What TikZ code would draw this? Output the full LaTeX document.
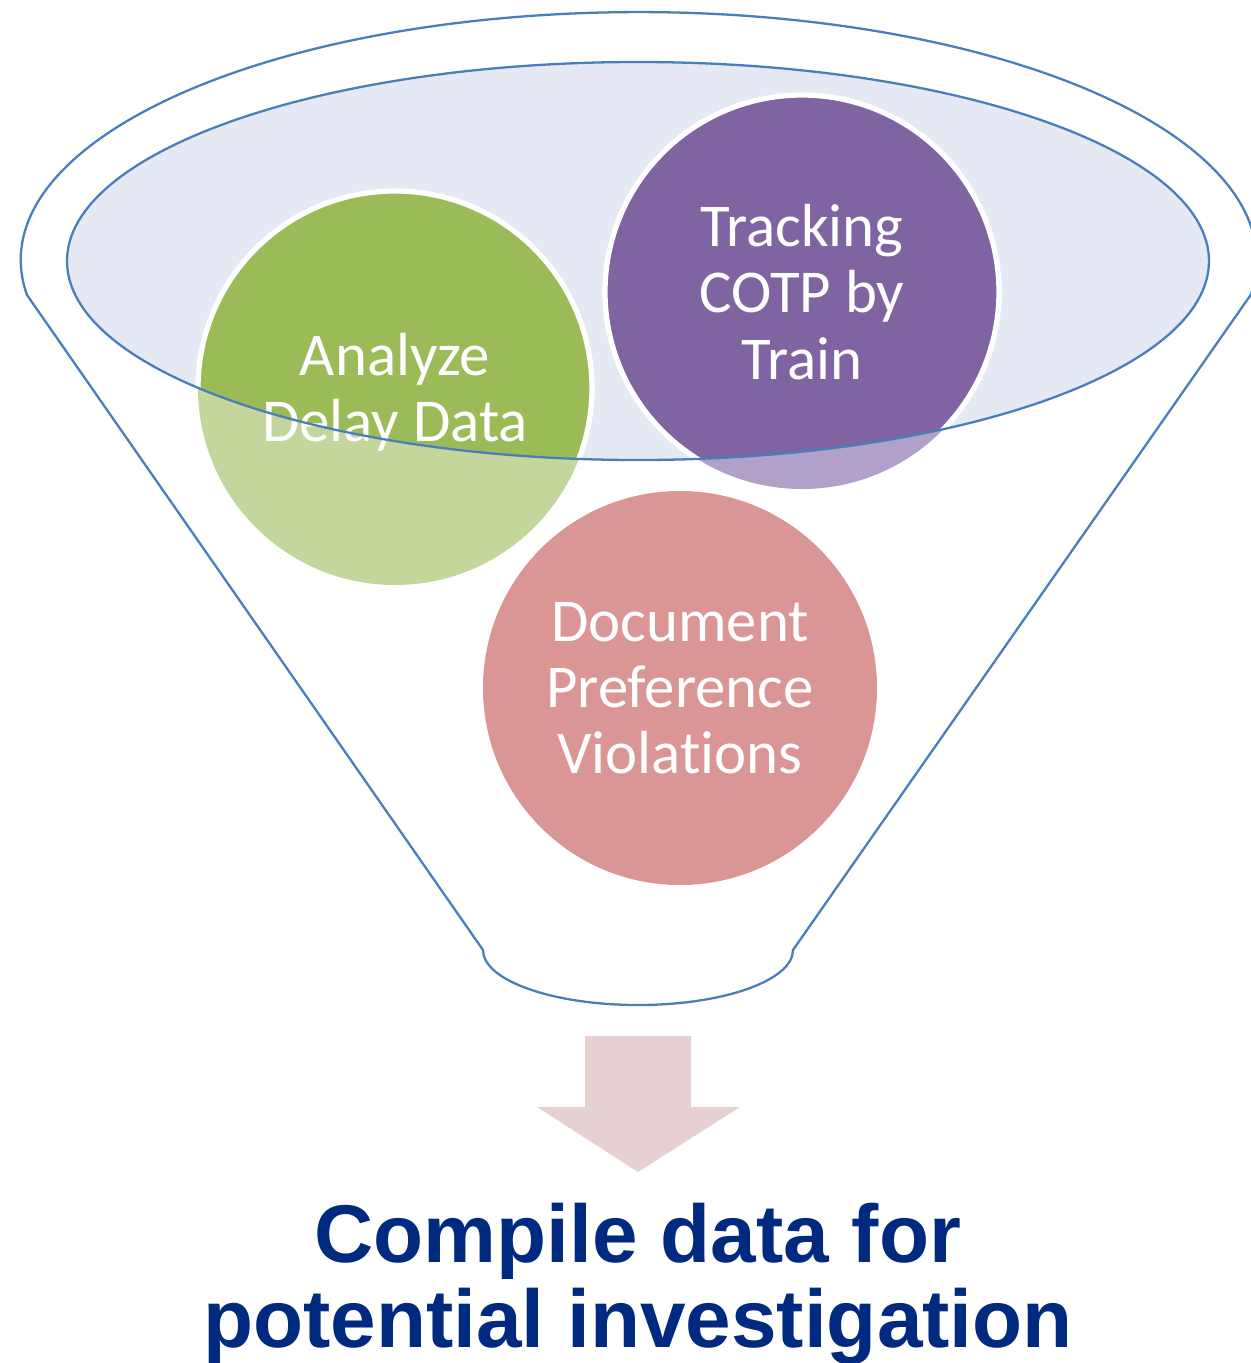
\documentclass[tikz,border=0pt]{standalone}
\usepackage{fontspec}
\setmainfont[Ligatures={NoCommon}]{Carlito}
\newfontfamily\headfont{Liberation Sans}
\usetikzlibrary{positioning}

\definecolor{funnelline}{RGB}{74,126,187}
\definecolor{funnelfill}{RGB}{228,233,243}
\definecolor{greendark}{RGB}{155,187,89}
\definecolor{greenlight}{RGB}{195,214,155}
\definecolor{purpledark}{RGB}{128,100,162}
\definecolor{purplelight}{RGB}{177,160,199}
\definecolor{pinkfill}{RGB}{217,150,148}
\definecolor{arrowfill}{RGB}{230,208,209}
\definecolor{navy}{RGB}{0,42,127}

\tikzset{
    rim/.style={draw=funnelline, line width=0.65pt},
    bubbletext/.style={text=white, align=center, font=\fontsize{17.3}{18.8}\selectfont},
    bubbleedge/.style={draw=white, line width=1.5pt},
}

\begin{document}
\begin{tikzpicture}[x=0.01cm, y=-0.01cm]
                    \useasboundingbox (0,0) rectangle (1251,1363);

                    \coordinate (delayc) at (395,388);
                    \coordinate (trainc) at (802,292);
                    \coordinate (prefc) at (680,688);

                    % funnel body
                    \draw[rim]
                        (483,950) -- (27,295)
                        arc[start angle=171.9, end angle=368.1, x radius=618, y radius=248]
                        -- (793,950)
                        arc[start angle=0, end angle=180, x radius=155, y radius=55]
                    ;
                    \fill[funnelfill]
                        (638,261) ellipse[x radius=571, y radius=199]
                    ;

                    % circles, light part outside the mouth
                    \fill[greenlight] (delayc) circle[radius=197];
                    \fill[purplelight] (trainc) circle[radius=197];
                    \fill[pinkfill] (prefc) circle[radius=197];

                    \begin{scope}
                        \clip (638,261) ellipse[x radius=571, y radius=199];
                        \filldraw[greendark, bubbleedge] (delayc) circle[radius=197];
                        \filldraw[purpledark, bubbleedge] (trainc) circle[radius=197];
                    \end{scope}

                    \node[bubbletext] (delay) at ([yshift=-1.2pt]delayc) {Analyze\\Delay Data};
                    \node[bubbletext] (train) at (trainc) {Tracking\\COTP by\\Train};
                    \node[bubbletext] (pref) at (prefc) {Document\\Preference\\Violations};

                    \draw[rim]
                        (638,261) ellipse[x radius=571, y radius=199]
                    ;

                    % arrow and result
                    \fill[arrowfill]
                        (585,1036) -- (691,1036) -- (691,1107) -- (740,1107)
                        -- (638,1172) -- (537,1107) -- (585,1107) -- cycle
                    ;
                    \node[text=navy, align=center, font=\headfont\bfseries\fontsize{23.3}{24.2}\selectfont]
                        (compile) at (638,1284) {Compile data for\\potential investigation};
                \end{tikzpicture}
\end{document}
